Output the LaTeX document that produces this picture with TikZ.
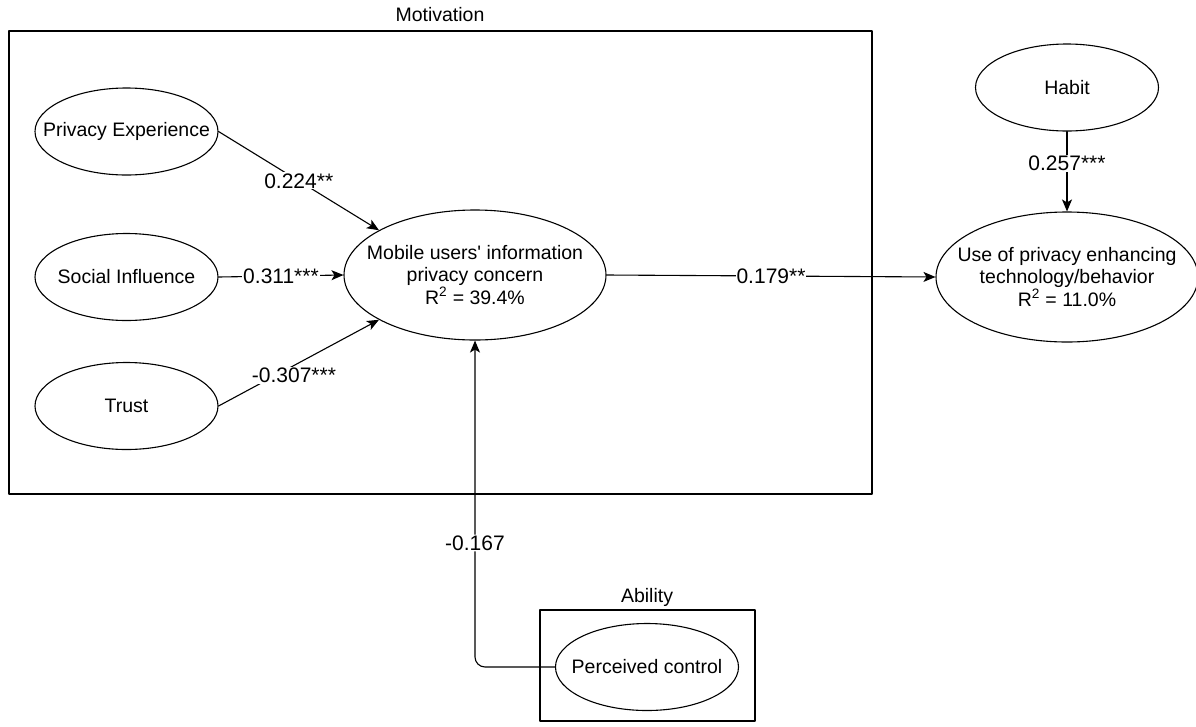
\documentclass[tikz,border=0pt]{standalone}
\usepackage{fontspec}
\setmainfont{Liberation Sans}
\usetikzlibrary{arrows.meta,positioning,shapes.geometric}
\newcommand{\nodefont}{\fontsize{19.5}{22.5}\selectfont}
\newcommand{\coeffont}{\fontsize{21}{24}\selectfont}

\begin{document}
\begin{tikzpicture}[x=1pt,y=-1pt,line cap=round,line join=round,
    construct/.style={ellipse,draw,line width=1.1pt,inner sep=0pt},
    small/.style={construct,minimum width=183pt,minimum height=87pt},
    big/.style={construct,minimum width=262pt,minimum height=130pt},
    inside/.style={align=center,font=\nodefont,inner sep=0pt},
    grpbox/.style={draw,line width=2.2pt,inner sep=0pt},
    grptxt/.style={font=\nodefont},
    coef/.style={fill=white,inner sep=1pt,font=\coeffont},
    effect/.style={line width=1.1pt,-{Stealth[length=12pt,width=10pt,inset=3pt]}}]
  \useasboundingbox (0,0) rectangle (1196,726);
  % groups
  \node[grpbox,minimum width=863pt,minimum height=463pt] (motbox) at (440.5,262.5) {};
  \node[grptxt] (motlbl) at (440,15) {Motivation};
  \node[grpbox,minimum width=215pt,minimum height=111pt] (abibox) at (647.5,665.5) {};
  \node[grptxt] (abilbl) at (647,597) {Ability};
  % constructs
  \node[small,label={[inside]center:Privacy Experience}] (pe) at (126.5,131.5) {};
  \node[small,label={[inside]center:Social Influence}] (si) at (126.5,277) {};
  \node[small,label={[inside]center:Trust}] (tr) at (126.5,406) {};
  \node[big,label={[inside]center:{Mobile users\textquotesingle{} information\\privacy concern\\R\textsuperscript{2} = 39.4\%}}] (mupc) at (475,275) {};
  \node[small,label={[inside]center:Habit}] (hab) at (1067,87.5) {};
  \node[big,label={[inside]center:{Use of privacy enhancing\\technology/behavior\\R\textsuperscript{2} = 11.0\%}}] (use) at (1067,277) {};
  \node[small,label={[inside]center:Perceived control}] (pc) at (647,667) {};
  % paths
  \draw[effect] (pe.east) -- node[coef]{0.224**} (mupc.155);
  \draw[effect] (si.east) -- node[coef]{0.311***} (mupc.west);
  \draw[effect] (tr.east) -- node[coef,pos=0.47,yshift=-10pt]{-0.307***} (mupc.205);
  \draw[effect] (mupc.east) -- node[coef]{0.179**} (use.west);
  \draw[effect] (hab.south) -- node[coef,pos=0.4]{0.257***} (use.north);
  \draw[effect,rounded corners=10pt] (pc.west) -| node[coef,pos=0.69]{-0.167} (mupc.south);
\end{tikzpicture}
\end{document}
